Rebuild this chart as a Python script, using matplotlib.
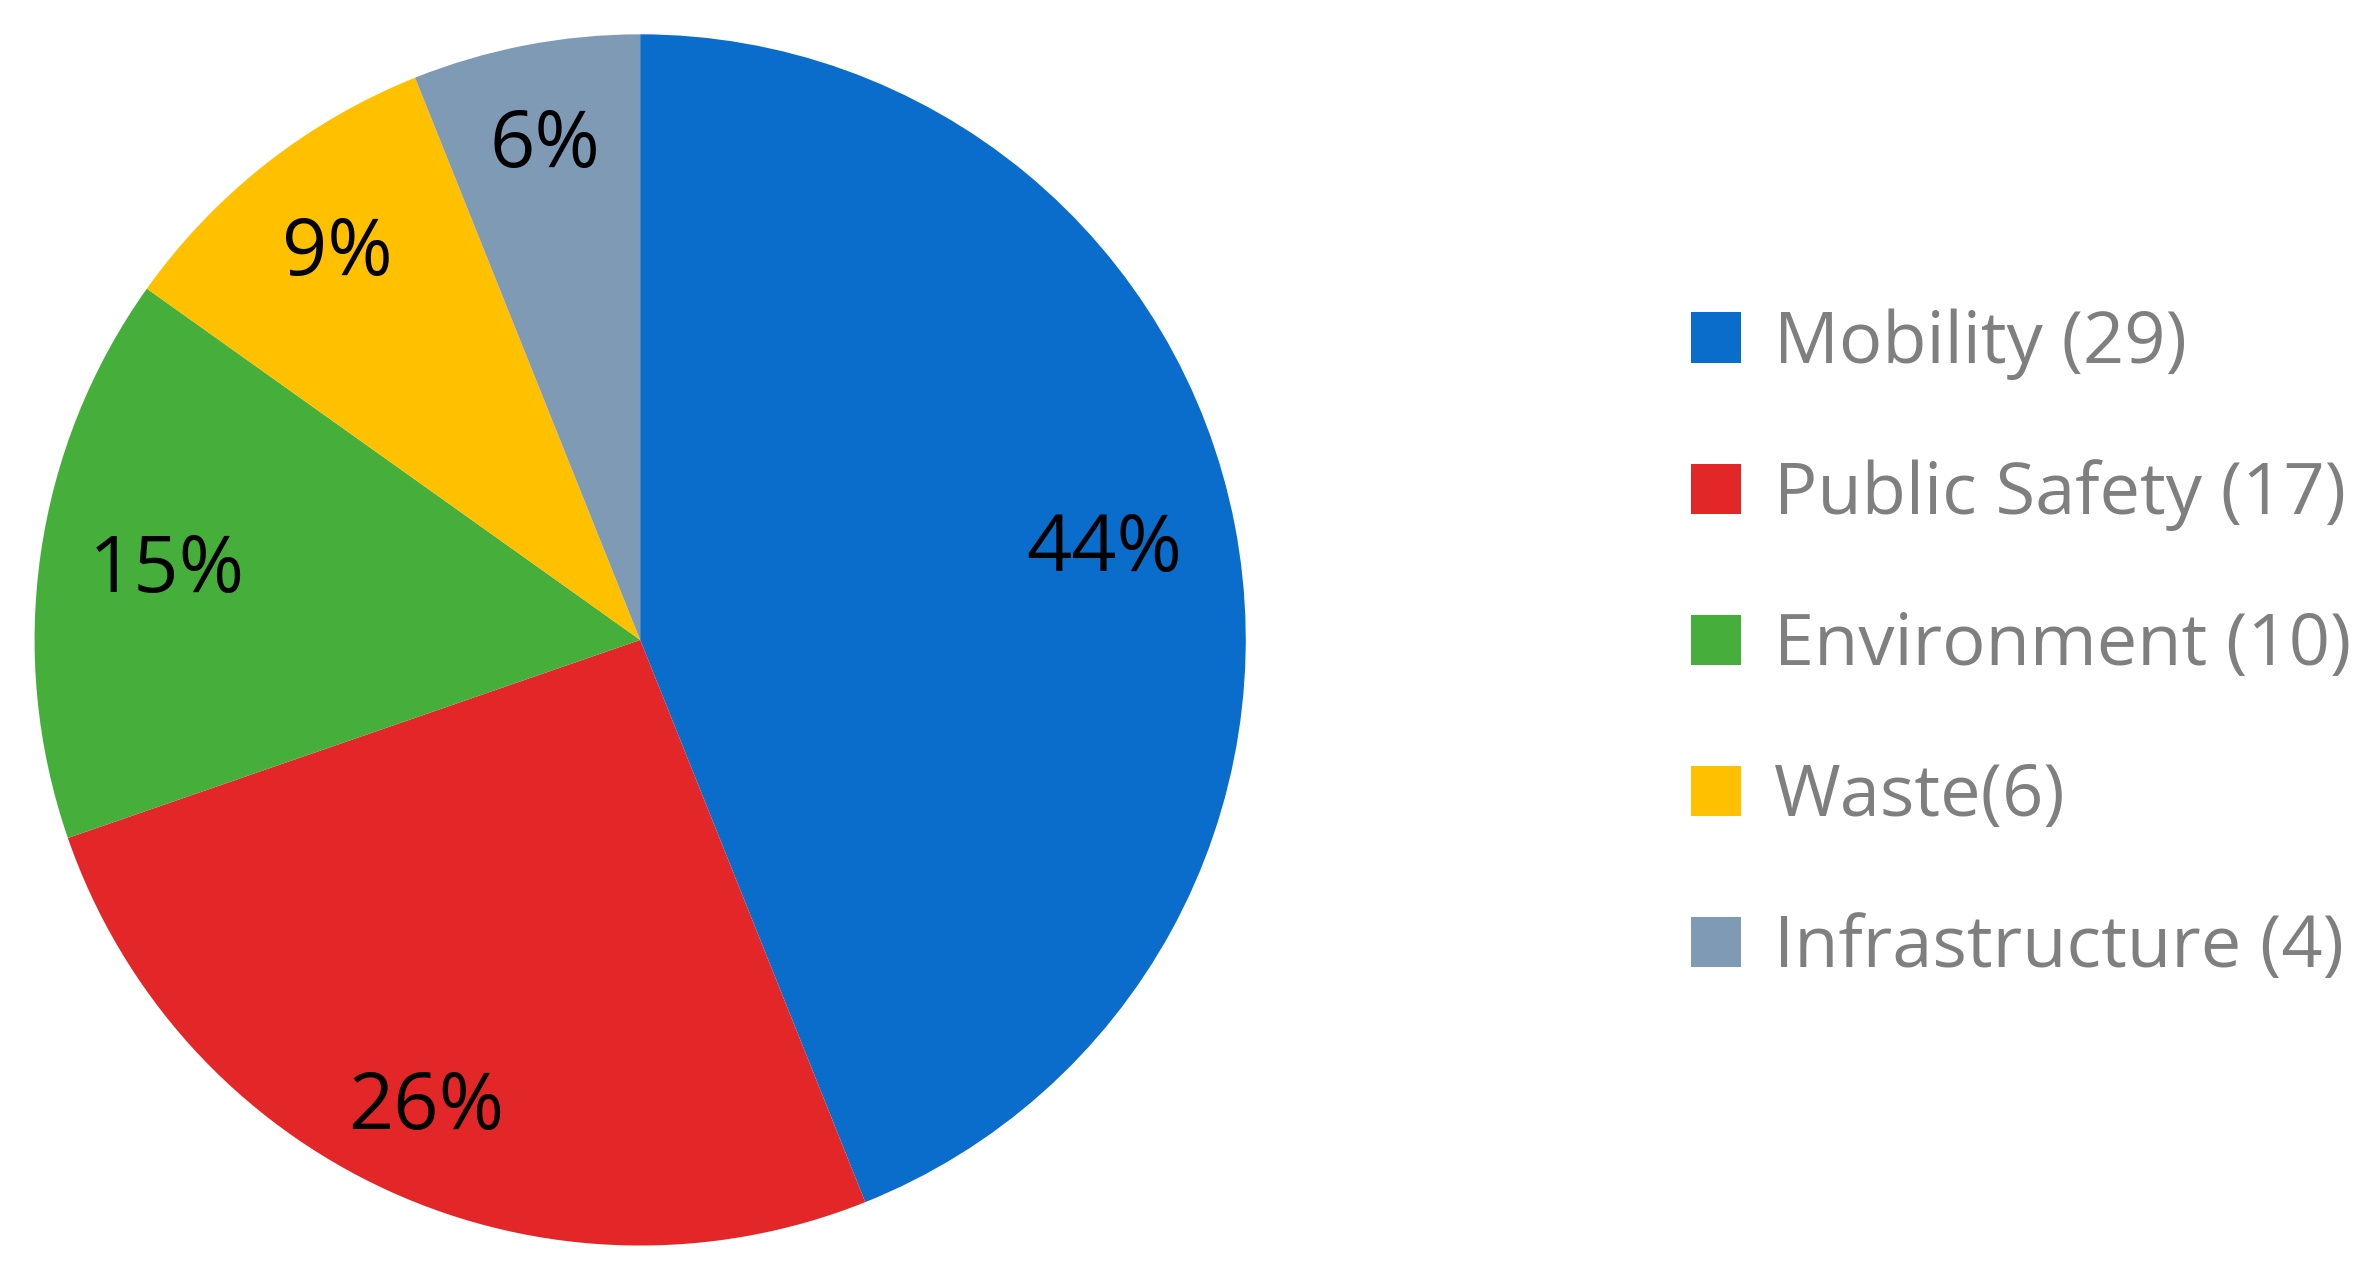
import matplotlib.pyplot as plt
import numpy as np

labels = ["Mobility (29)", "Public Safety (17)", "Environment (10)", "Waste(6)", "Infrastructure (4)"]
counts = [29, 17, 10, 6, 4]
pct_text = ["44%", "26%", "15%", "9%", "6%"]
colors = ["#0A6CCB", "#E32628", "#46AE3A", "#FFC000", "#7F9AB5"]

plt.rcParams['font.family'] = ['Open Sans', 'DejaVu Sans']

fig = plt.figure(figsize=(23.71, 12.85), dpi=100)
ax = fig.add_axes([0.012, 0.026, 0.516, 0.952])

wedges, _ = ax.pie(counts, colors=colors, startangle=90, counterclock=False,
                   radius=1.0, wedgeprops=dict(linewidth=0))
ax.set_xlim(-1.01, 1.01)
ax.set_ylim(-1.01, 1.01)
ax.set_aspect('equal')

# label distance from centre, per slice
dist = [0.78, 0.85, 0.79, 0.81, 0.83]
total = sum(counts)
start = 90.0
for w, t, d in zip(counts, pct_text, dist):
    mid = np.deg2rad(start - 360.0 * w / total / 2)
    ax.text(d * np.cos(mid), d * np.sin(mid), t, ha='center', va='center',
            fontsize=57, color='black')
    start -= 360.0 * w / total

leg = fig.legend(wedges, labels, loc='center left', bbox_to_anchor=(0.713, 0.497),
                 frameon=False, fontsize=52, labelspacing=1.1, borderpad=0,
                 borderaxespad=0, handlelength=0.7, handleheight=0.7,
                 handletextpad=0.45)
for t in leg.get_texts():
    t.set_color('#7F7F7F')

fig.savefig("out.png", dpi=100, facecolor="w")
